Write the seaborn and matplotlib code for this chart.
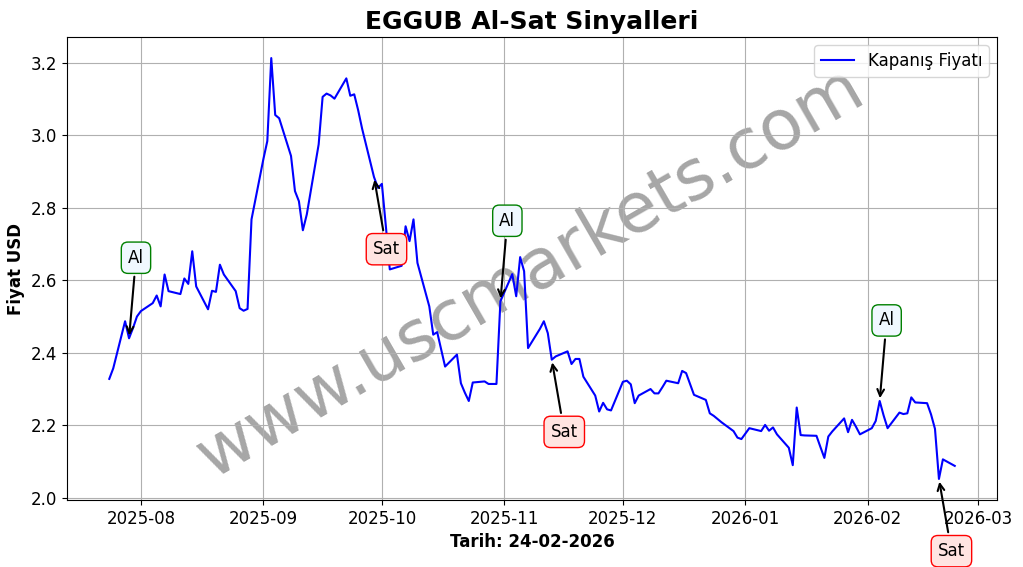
import pandas as pd
import matplotlib
matplotlib.use("Agg")
import matplotlib.pyplot as plt
import seaborn as sns

dates = [
    "2025-07-24", "2025-07-25", "2025-07-28", "2025-07-29", "2025-07-30", "2025-07-31",
    "2025-08-01", "2025-08-04", "2025-08-05", "2025-08-06", "2025-08-07", "2025-08-08",
    "2025-08-11", "2025-08-12", "2025-08-13", "2025-08-14", "2025-08-15",
    "2025-08-18", "2025-08-19", "2025-08-20", "2025-08-21", "2025-08-22",
    "2025-08-25", "2025-08-26", "2025-08-27", "2025-08-28", "2025-08-29",
    "2025-09-01", "2025-09-02", "2025-09-03", "2025-09-04", "2025-09-05",
    "2025-09-08", "2025-09-09", "2025-09-10", "2025-09-11", "2025-09-12",
    "2025-09-15", "2025-09-16", "2025-09-17", "2025-09-18", "2025-09-19",
    "2025-09-22", "2025-09-23", "2025-09-24", "2025-09-25", "2025-09-26",
    "2025-09-29", "2025-09-30", "2025-10-01", "2025-10-02", "2025-10-03",
    "2025-10-06", "2025-10-07", "2025-10-08", "2025-10-09", "2025-10-10",
    "2025-10-13", "2025-10-14", "2025-10-15", "2025-10-16", "2025-10-17",
    "2025-10-20", "2025-10-21", "2025-10-22", "2025-10-23", "2025-10-24",
    "2025-10-27", "2025-10-28", "2025-10-30", "2025-10-31",
    "2025-11-03", "2025-11-04", "2025-11-05", "2025-11-06", "2025-11-07",
    "2025-11-10", "2025-11-11", "2025-11-12", "2025-11-13", "2025-11-14",
    "2025-11-17", "2025-11-18", "2025-11-19", "2025-11-20", "2025-11-21",
    "2025-11-24", "2025-11-25", "2025-11-26", "2025-11-27", "2025-11-28",
    "2025-12-01", "2025-12-02", "2025-12-03", "2025-12-04", "2025-12-05",
    "2025-12-08", "2025-12-09", "2025-12-10", "2025-12-11", "2025-12-12",
    "2025-12-15", "2025-12-16", "2025-12-17", "2025-12-18", "2025-12-19",
    "2025-12-22", "2025-12-23", "2025-12-24", "2025-12-25", "2025-12-26",
    "2025-12-29", "2025-12-30", "2025-12-31",
    "2026-01-02", "2026-01-05", "2026-01-06", "2026-01-07", "2026-01-08", "2026-01-09",
    "2026-01-12", "2026-01-13", "2026-01-14", "2026-01-15", "2026-01-16",
    "2026-01-19", "2026-01-20", "2026-01-21", "2026-01-22", "2026-01-23",
    "2026-01-26", "2026-01-27", "2026-01-28", "2026-01-29", "2026-01-30",
    "2026-02-02", "2026-02-03", "2026-02-04", "2026-02-05", "2026-02-06",
    "2026-02-09", "2026-02-10", "2026-02-11", "2026-02-12", "2026-02-13",
    "2026-02-16", "2026-02-17", "2026-02-18", "2026-02-19", "2026-02-20",
    "2026-02-23",
]

prices = [
    2.328, 2.357, 2.487, 2.440, 2.468, 2.500,
    2.515, 2.537, 2.558, 2.528, 2.616, 2.570,
    2.562, 2.605, 2.590, 2.680, 2.583,
    2.520, 2.571, 2.568, 2.643, 2.616,
    2.570, 2.523, 2.516, 2.521, 2.768,
    2.934, 2.984, 3.213, 3.056, 3.047,
    2.943, 2.846, 2.818, 2.738, 2.782,
    2.975, 3.106, 3.115, 3.110, 3.101,
    3.157, 3.109, 3.113, 3.069, 3.018,
    2.885, 2.855, 2.866, 2.750, 2.630,
    2.640, 2.749, 2.708, 2.768, 2.648,
    2.528, 2.450, 2.457, 2.410, 2.362,
    2.395, 2.316, 2.290, 2.267, 2.318,
    2.321, 2.314, 2.314, 2.542,
    2.617, 2.556, 2.664, 2.625, 2.413,
    2.466, 2.487, 2.454, 2.381, 2.390,
    2.404, 2.369, 2.383, 2.383, 2.334,
    2.282, 2.238, 2.262, 2.244, 2.241,
    2.320, 2.323, 2.313, 2.261, 2.282,
    2.300, 2.288, 2.288, 2.305, 2.323,
    2.316, 2.350, 2.344, 2.314, 2.284,
    2.270, 2.233, 2.226, 2.217, 2.208,
    2.184, 2.166, 2.162,
    2.192, 2.184, 2.201, 2.185, 2.194, 2.175,
    2.138, 2.090, 2.249, 2.173, 2.172,
    2.171, 2.140, 2.110, 2.169, 2.183,
    2.219, 2.181, 2.215, 2.196, 2.175,
    2.192, 2.212, 2.267, 2.227, 2.192,
    2.235, 2.231, 2.233, 2.277, 2.263,
    2.261, 2.230, 2.190, 2.052, 2.106,
    2.088,
]

# al / sat sinyalleri
buy_dates = ["2025-07-29", "2025-10-31", "2026-02-04"]
sell_dates = ["2025-09-29", "2025-11-13", "2026-02-19"]

df = pd.DataFrame({"Tarih": pd.to_datetime(dates), "Fiyat": prices})
price_at = dict(zip(df["Tarih"], df["Fiyat"]))

fig, ax = plt.subplots(figsize=(10.23, 5.67), dpi=100)
plt.subplots_adjust(left=0.0655, right=0.9746, top=0.9347, bottom=0.1182)

sns.lineplot(data=df, x="Tarih", y="Fiyat", color="blue", linewidth=1.5,
             label="Kapanış Fiyatı", ax=ax)

for d in buy_dates:
    d = pd.Timestamp(d)
    ax.annotate("Al", xy=(d, price_at[d]), xytext=(5, 58), textcoords="offset points",
                ha="center", va="center", fontsize=12,
                bbox=dict(boxstyle="round,pad=0.4", fc="aliceblue", ec="green"),
                arrowprops=dict(arrowstyle="->", color="black", lw=1.5))

for d in sell_dates:
    d = pd.Timestamp(d)
    ax.annotate("Sat", xy=(d, price_at[d]), xytext=(9, -52), textcoords="offset points",
                ha="center", va="center", fontsize=12,
                bbox=dict(boxstyle="round,pad=0.4", fc="mistyrose", ec="red"),
                arrowprops=dict(arrowstyle="->", color="black", lw=1.5),
                annotation_clip=False)

ax.text(0.498, 0.49, "www.uscmarkets.com", transform=ax.transAxes,
        fontsize=50, color="gray", alpha=0.7, rotation=30,
        ha="center", va="center", zorder=0)

ax.set_title("EGGUB Al-Sat Sinyalleri", fontsize=18, fontweight="bold")
ax.set_xlabel("Tarih: 24-02-2026", fontsize=12, fontweight="bold")
ax.set_ylabel("Fiyat USD", fontsize=12, fontweight="bold")
ax.tick_params(labelsize=12)
ax.grid(True)
ax.legend(loc="upper right", fontsize=12)

plt.savefig("out.png", dpi=100)
